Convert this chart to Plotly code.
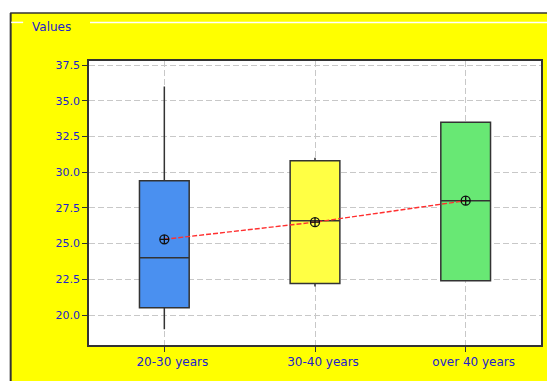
import plotly.graph_objects as go

categories = ["20-30 years", "30-40 years", "over 40 years"]
q1_vals = [20.5, 22.2, 22.4]
median_vals = [24.0, 26.6, 28.0]
q3_vals = [29.4, 30.8, 33.5]
low_vals = [19.0, 22.0, 22.4]
high_vals = [36.0, 31.0, 33.5]
mean_vals = [25.3, 26.5, 28.0]
box_colors = ["#4a90f0", "#ffff44", "#68e874"]
y_ticks = [20.0, 22.5, 25.0, 27.5, 30.0, 32.5, 35.0, 37.5]

# page has an 8px body margin; figure coordinates are screen - 8
OFF = 8
W, H = 555 - OFF, 381 - OFF
ML, MR, MT, MB = 89 - OFF, 13, 61 - OFF, 33
pw, ph = W - ML - MR, H - MT - MB

def px_x(p):
    return (p - OFF - ML) / pw

def px_y(p):
    return (H - MB - (p - OFF)) / ph

fig = go.Figure()
for i, c in enumerate(categories):
    fig.add_trace(go.Box(
        x=[c], q1=[q1_vals[i]], median=[median_vals[i]], q3=[q3_vals[i]],
        lowerfence=[low_vals[i]], upperfence=[high_vals[i]],
        fillcolor=box_colors[i], line=dict(color="#333333", width=1.5),
        width=0.33, whiskerwidth=0, boxpoints=False, showlegend=False,
        hoverinfo="skip",
    ))

fig.add_trace(go.Scatter(
    x=categories, y=mean_vals, mode="lines+markers",
    line=dict(color="#ff3030", width=1.4, dash="5px,2px"),
    marker=dict(symbol="circle-cross-open", size=9, color="#111111",
                line=dict(width=1.3, color="#111111")),
    showlegend=False,
))

font_blue = "#2222cc"
grid = dict(showgrid=True, gridcolor="#c8c8c8", griddash="6px,3px", gridwidth=1,
            showline=True, linecolor="#333333", linewidth=1.5, mirror=True,
            ticks="outside", ticklen=5, tickcolor="#333333", zeroline=False)
fig.update_layout(
    width=W, height=H,
    margin=dict(l=ML, r=MR, t=MT, b=MB, pad=0),
    paper_bgcolor="#ffff00", plot_bgcolor="white",
    boxmode="overlay",
    font=dict(family="DejaVu Sans", size=11, color=font_blue),
    xaxis=dict(type="category", range=[-0.5, 2.5], ticklabelshift=8,
               tickfont=dict(size=12, color=font_blue), **grid),
    yaxis=dict(range=[17.9, 37.78], tickvals=y_ticks,
               ticktext=[f"{v:.1f}" for v in y_ticks],
               tickfont=dict(size=11, color=font_blue), **grid),
    shapes=[
        # white strips outside the yellow panel
        dict(type="rect", xref="paper", yref="paper", layer="below",
             x0=px_x(0), x1=px_x(560), y0=px_y(12.5), y1=px_y(0),
             fillcolor="white", line=dict(width=0)),
        dict(type="rect", xref="paper", yref="paper", layer="below",
             x0=px_x(0), x1=px_x(10), y0=px_y(390), y1=px_y(0),
             fillcolor="white", line=dict(width=0)),
        # panel border (top and left)
        dict(type="line", xref="paper", yref="paper", layer="below",
             x0=px_x(10), x1=px_x(560), y0=px_y(12.5), y1=px_y(12.5),
             line=dict(color="#333333", width=1.5)),
        dict(type="line", xref="paper", yref="paper", layer="below",
             x0=px_x(10.5), x1=px_x(10.5), y0=px_y(12.5), y1=px_y(390),
             line=dict(color="#333333", width=2)),
        # white title rule
        dict(type="line", xref="paper", yref="paper", layer="below",
             x0=px_x(11), x1=px_x(23), y0=px_y(22), y1=px_y(22),
             line=dict(color="white", width=1.5)),
        dict(type="line", xref="paper", yref="paper", layer="below",
             x0=px_x(90), x1=px_x(560), y0=px_y(22), y1=px_y(22),
             line=dict(color="white", width=1.5)),
    ],
    annotations=[
        dict(text="Values", xref="paper", yref="paper",
             x=px_x(30), y=px_y(27), xanchor="left", yanchor="middle",
             showarrow=False, font=dict(size=12, color=font_blue)),
    ],
)

fig.write_html("out.html")
